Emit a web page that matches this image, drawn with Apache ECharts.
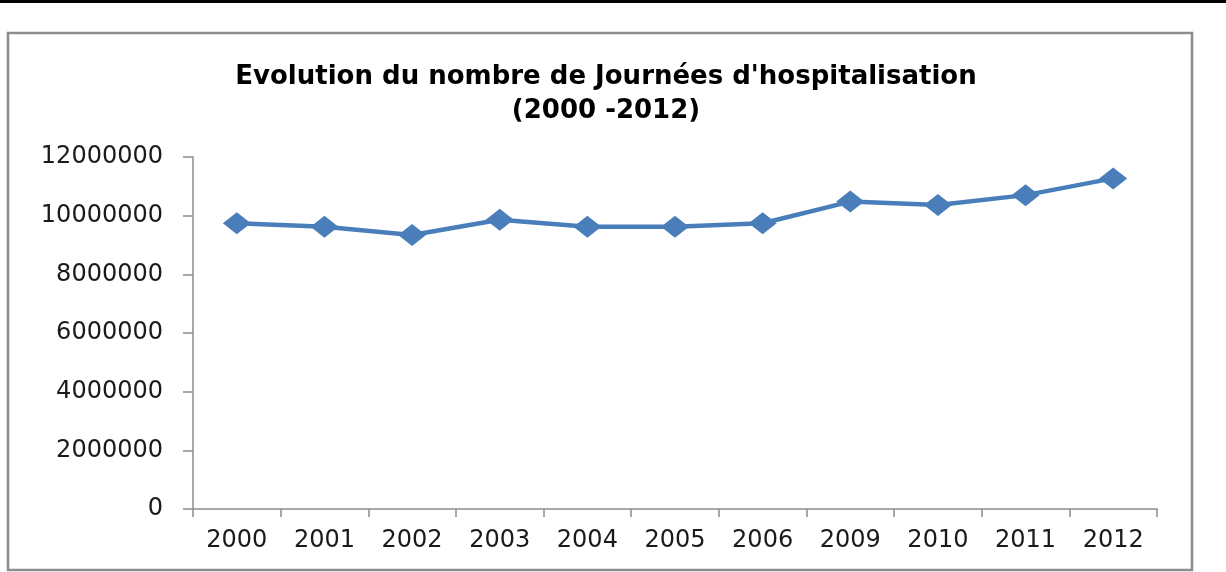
<!DOCTYPE html>
<html>
<head>
<meta charset="utf-8">
<script src="https://cdn.jsdelivr.net/npm/echarts@6/dist/echarts.min.js"></script>
<style>
  html, body { margin: 0; padding: 0; background: #fff; }
  #chart { width: 1226px; height: 572px; }
</style>
</head>
<body>
<div id="chart"></div>
<script>
var years = ['2000', '2001', '2002', '2003', '2004', '2005', '2006', '2009', '2010', '2011', '2012'];
var journees = [9740000, 9620000, 9340000, 9860000, 9620000, 9620000, 9740000, 10480000, 10360000, 10700000, 11270000];
var titleText = "Evolution du nombre de Journées d'hospitalisation\n(2000 -2012)";

var chart = echarts.init(document.getElementById('chart'));
var option = {
  backgroundColor: '#fff',
  animation: false,
  title: {
    text: titleText,
    left: 601,
    top: 55,
    textAlign: 'center',
    textStyle: {
      fontFamily: 'DejaVu Sans',
      fontWeight: 'bold',
      fontSize: 26,
      lineHeight: 34,
      color: '#000'
    }
  },
  graphic: [
    { type: 'rect', shape: { x: 0, y: 0, width: 1226, height: 3 }, style: { fill: '#000' } },
    { type: 'rect', shape: { x: 8, y: 33, width: 1184, height: 537 }, style: { fill: 'none', stroke: '#8c8c8c', lineWidth: 2.5 } }
  ],
  grid: { left: 193, right: 69, top: 157, bottom: 63 },
  xAxis: {
    type: 'category',
    data: years,
    axisLine: { lineStyle: { color: '#8c8c8c', width: 1.5 } },
    axisTick: { show: true, length: 8, lineStyle: { color: '#8c8c8c', width: 1.5 } },
    axisLabel: { margin: 20, color: '#1a1a1a', fontFamily: 'DejaVu Sans', fontSize: 24 }
  },
  yAxis: {
    type: 'value',
    min: 0,
    max: 12000000,
    interval: 2000000,
    axisLine: { show: true, lineStyle: { color: '#8c8c8c', width: 1.5 } },
    axisTick: { show: true, length: 10, lineStyle: { color: '#8c8c8c', width: 1.5 } },
    splitLine: { show: false },
    axisLabel: {
      margin: 30, color: '#1a1a1a', fontFamily: 'DejaVu Sans', fontSize: 24,
      formatter: function (v) { return String(v); }
    }
  },
  series: [{
    type: 'line',
    data: journees,
    symbol: 'diamond',
    symbolSize: [28, 22],
    lineStyle: { color: '#4a7ebb', width: 4.5 },
    itemStyle: { color: '#4a7ebb' }
  }]
};
chart.setOption(option);
</script>
</body>
</html>
